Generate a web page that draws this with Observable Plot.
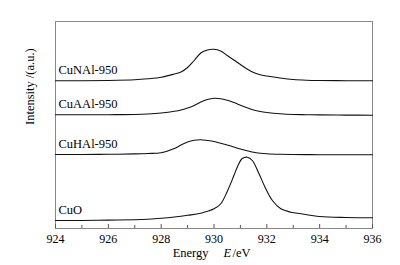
<!DOCTYPE html>
<html><head><meta charset="utf-8">
<script src="https://cdn.jsdelivr.net/npm/d3@7"></script>
<script src="https://cdn.jsdelivr.net/npm/@observablehq/plot@0.6"></script>
<style>body{margin:0;background:#fff;} #chart{width:400px;height:265px;}</style>
</head><body><div id="chart"></div>
<script>
const seriesNames = ["CuNAl-950", "CuAAl-950", "CuHAl-950", "CuO"];
const energyBroad = [924,925,926,927,927.5,928,928.5,928.75,929,929.25,929.5,929.75,930,930.25,930.5,930.75,931,931.25,931.5,931.75,932,932.5,933,933.5,934,935,936];
const cuNAl = [147.7,147.8,148,148.7,149.7,151.2,154.5,156.5,161,168,175.5,178.5,179.2,177.5,173,168.5,164,159.5,156,153.7,152.5,150.5,149,148.3,148,147.8,147.7];
const cuAAl = [113.7,113.7,113.8,114,114.5,115.5,117.2,118.5,120.5,123,126.5,129,130.2,129.8,128.2,126,123.2,120.7,118.5,117,116,114.7,114,113.8,113.6,113.4,113.3];
const cuHAl = [74,74,74.2,74.6,75,75.8,80,83.5,86.5,88.2,88.7,88,87,85.3,83.5,81.5,79.5,77.7,76.2,75.3,74.7,74.2,74,73.9,73.8,73.7,73.7];
const energyCuO = [924,925,926,927,927.5,928,928.5,929,929.5,930,930.25,930.5,930.75,930.9,931.07,931.26,931.45,931.7,931.96,932.21,932.53,932.91,933.29,934,935,936];
const cuO = [8,8,8.4,8.8,9.3,10.2,11.5,13.2,15.3,19.7,24.5,37,52.7,62.5,70,71.3,68,55,39.7,28,19.7,16.3,14.7,12,11,10.7];
const majorTicks = [924,926,928,930,932,934,936];
const minorTicks = [925,927,929,931,933,935];
const yLabel = "Intensity /(a.u.)";

const rows = [];
[[seriesNames[0], energyBroad, cuNAl],[seriesNames[1], energyBroad, cuAAl],[seriesNames[2], energyBroad, cuHAl],[seriesNames[3], energyCuO, cuO]]
  .forEach(([name, xs, ys]) => xs.forEach((e, i) => rows.push({name, energy: e, intensity: ys[i]})));

const plot = Plot.plot({
  width: 400, height: 265,
  marginLeft: 55, marginRight: 28, marginTop: 21, marginBottom: 37,
  style: {fontFamily: "'Liberation Serif', 'Times New Roman', serif", fontSize: "12px", color: "#000", background: "#fff"},
  x: {domain: [924, 936]},
  y: {domain: [0, 207]},
  marks: [
    Plot.frame({stroke: "#888"}),
    Plot.axisX({ticks: majorTicks, tickSize: 0, tickPadding: 6, fontSize: 12, label: null}),
    Plot.axisX({ticks: majorTicks, tickSize: 4, dy: -4, tickFormat: () => "", stroke: "#555", label: null}),
    Plot.axisX({ticks: minorTicks, tickSize: 3, dy: -3, tickFormat: () => "", stroke: "#555", label: null}),
    Plot.axisY({ticks: [], label: null}),
    Plot.line(rows, {x: "energy", y: "intensity", z: "name", stroke: "#111", strokeWidth: 1.1, curve: "catmull-rom"}),
    Plot.text(rows, Plot.selectFirst({x: "energy", y: "intensity", z: "name", text: "name", textAnchor: "start", lineAnchor: "middle", dx: 3, dy: -10.5, fontSize: 12.5, fill: "#000"})),
    Plot.text([yLabel], {text: d => d, frameAnchor: "left", dx: -26, rotate: -90, fontSize: 12.5, fill: "#000"}),
    Plot.text(["Energy"], {text: d => d, frameAnchor: "bottom", textAnchor: "end", dx: -5.5, dy: 24, lineAnchor: "middle", fontSize: 12.5, fill: "#000"}),
    Plot.text(["E"], {text: d => d, frameAnchor: "bottom", textAnchor: "start", dx: 9.5, dy: 24, lineAnchor: "middle", fontSize: 12.5, fontStyle: "italic", fill: "#000"}),
    Plot.text(["/eV"], {text: d => d, frameAnchor: "bottom", textAnchor: "start", dx: 18.5, dy: 24, lineAnchor: "middle", fontSize: 12.5, fill: "#000"})
  ]
});
document.getElementById("chart").appendChild(plot);
</script></body></html>
